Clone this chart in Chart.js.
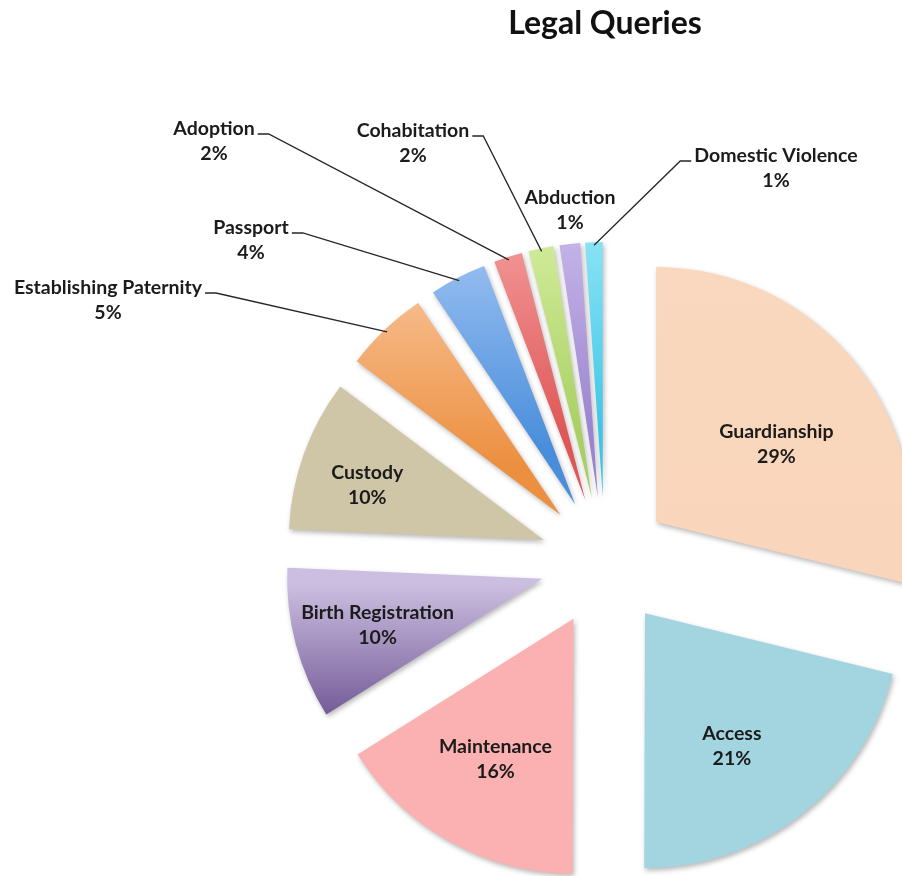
<!DOCTYPE html>
<html>
<head>
<meta charset="utf-8">
<script src="https://cdn.jsdelivr.net/npm/chart.js@4/dist/chart.umd.min.js"></script>
<style>
  html, body { margin: 0; padding: 0; background: #ffffff; overflow: hidden; }
  #wrap { width: 902px; height: 876px; position: relative; }
</style>
</head>
<body>
<div id="wrap"><canvas id="c" width="902" height="876"></canvas></div>
<script>
// ---------------- data ----------------
const chartTitle = 'Legal Queries';
const categories = ['Guardianship', 'Access', 'Maintenance', 'Birth Registration', 'Custody',
  'Establishing Paternity', 'Passport', 'Adoption', 'Cohabitation', 'Abduction', 'Domestic Violence'];
const shares = [28.8, 21.2, 16.0, 9.6, 9.6, 5.3, 3.6, 1.8, 1.6, 1.3, 1.1];

// ---------------- styles ----------------
const topColors    = ['#f9d8bf', '#a3d5e1', '#fbb1b1', '#cbbee0', '#cec6a7', '#f9c69e', '#a9caf6', '#f7a6a6', '#ddf3aa', '#d1c2ef', '#a2ecf8'];
const bottomColors = ['#f9d6bb', '#a3d5e1', '#fbb1b1', '#6a4f8f', '#cec6a7', '#ec8f3e', '#4a8edb', '#df5656', '#a8d062', '#9b84cf', '#3ec6e6'];
const FONT = 'Lato, "Open Sans", sans-serif';
const RADIUS = 255;      // px
const EXPLODE = 65;      // px shift of every slice
// label layout (angle clockwise from 12 o'clock, distance from pie centre) for inside labels,
// offsets from pie centre for callout labels
const insideLabels = { 0: [55.5, 208], 1: [145.5, 224], 2: [209, 226], 3: [254.5, 236], 4: [288, 250] };
const calloutLabels = {
  5: { dx: -497, dy: -274, side: 'left', line: true },
  6: { dx: -354, dy: -334, side: 'left', line: true },
  7: { dx: -391, dy: -433, side: 'left', line: true },
  8: { dx: -192, dy: -431, side: 'left', line: true },
  9: { dx: -35,  dy: -364, side: 'left', line: false },
  10:{ dx: 171,  dy: -406, side: 'right', line: true }
};

// Exploded pie: shift each slice along its bisector, keeping radius and angle unchanged
const Arc = Chart.ArcElement || (Chart.elements && Chart.elements.ArcElement);
const baseArcDraw = Arc.prototype.draw;
Arc.prototype.draw = function (ctx) {
  const opts = this.options;
  const off = (opts.offset || 0) / 4;
  const half = (this.startAngle + this.endAngle) / 2;
  ctx.save();
  ctx.translate(Math.cos(half) * off, Math.sin(half) * off);
  this.options = Object.assign({}, opts, { offset: 0 });
  try { baseArcDraw.call(this, ctx); } finally { this.options = opts; }
  ctx.restore();
};

function sliceGradient(context) {
  const chart = context.chart;
  const i = context.dataIndex;
  const a = chart.chartArea;
  if (!a) return topColors[i];
  const cx = (a.left + a.right) / 2, cy = (a.top + a.bottom) / 2;
  const total = shares.reduce((s, v) => s + v, 0);
  let cum = 0;
  for (let k = 0; k < i; k++) cum += shares[k];
  const s = -Math.PI / 2 + 2 * Math.PI * cum / total;
  const e = s + 2 * Math.PI * shares[i] / total;
  const m = (s + e) / 2;
  const oy = cy + Math.sin(m) * EXPLODE;
  let minY = oy, maxY = oy;
  for (let t = 0; t <= 40; t++) {
    const ang = s + (e - s) * t / 40;
    const y = oy + Math.sin(ang) * RADIUS;
    minY = Math.min(minY, y); maxY = Math.max(maxY, y);
  }
  const g = chart.ctx.createLinearGradient(0, minY, 0, maxY);
  g.addColorStop(0, topColors[i]);
  g.addColorStop(1, bottomColors[i]);
  return g;
}

const shadowPlugin = {
  id: 'sliceShadow',
  beforeDatasetDraw(chart) {
    const c = chart.ctx;
    c.save();
    c.shadowColor = 'rgba(0,0,0,0.28)';
    c.shadowBlur = 5;
    c.shadowOffsetX = 1.5;
    c.shadowOffsetY = 2.5;
  },
  afterDatasetDraw(chart) { chart.ctx.restore(); }
};

const labelPlugin = {
  id: 'sliceLabels',
  afterDatasetsDraw(chart) {
    const ctx = chart.ctx;
    const meta = chart.getDatasetMeta(0);
    const total = shares.reduce((s, v) => s + v, 0);
    const lineGap = 25;
    ctx.save();
    ctx.font = 'bold 19.5px ' + FONT;
    ctx.fillStyle = '#1b1b1b';
    ctx.strokeStyle = '#262626';
    ctx.lineWidth = 1.3;
    ctx.textAlign = 'center';
    ctx.textBaseline = 'middle';
    meta.data.forEach((el, i) => {
      const pct = Math.round(shares[i] / total * 100) + '%';
      if (insideLabels[i]) {
        const [deg, dist] = insideLabels[i];
        const a = (deg - 90) * Math.PI / 180;
        const x = el.x + Math.cos(a) * dist, y = el.y + Math.sin(a) * dist;
        ctx.fillText(categories[i], x, y - lineGap / 2);
        ctx.fillText(pct, x, y + lineGap / 2);
      } else if (calloutLabels[i]) {
        const L = calloutLabels[i];
        const x = el.x + L.dx, y = el.y + L.dy;
        ctx.fillText(categories[i], x, y);
        ctx.fillText(pct, x, y + lineGap);
        if (L.line) {
          const w = ctx.measureText(categories[i]).width;
          const mid = (el.startAngle + el.endAngle) / 2;
          const shift = (el.options.offset || 0) / 4;
          const ex = el.x + Math.cos(mid) * (shift + el.outerRadius - 3);
          const ey = el.y + Math.sin(mid) * (shift + el.outerRadius - 3);
          const dir = L.side === 'left' ? 1 : -1;
          const sx = x + dir * (w / 2 + 3), sy = y + 5;
          ctx.beginPath();
          ctx.moveTo(sx, sy);
          ctx.lineTo(sx + dir * 11, sy);
          ctx.lineTo(ex, ey);
          ctx.stroke();
        }
      }
    });
    ctx.restore();
  }
};

new Chart(document.getElementById('c'), {
  type: 'pie',
  data: {
    labels: categories,
    datasets: [{
      data: shares,
      backgroundColor: sliceGradient,
      borderWidth: 0,
      offset: EXPLODE * 4,
      hoverOffset: 0,
      radius: RADIUS,
      clip: false
    }]
  },
  options: {
    responsive: false,
    animation: false,
    events: [],
    radius: RADIUS,
    layout: { padding: { left: 308, right: 0, top: 0, bottom: 0 } },
    plugins: {
      legend: { display: false },
      tooltip: { enabled: false },
      title: {
        display: true,
        text: chartTitle,
        color: '#111',
        font: { family: FONT, size: 32, weight: 'bold', lineHeight: 1.2 },
        padding: { top: 4, bottom: 248 - 4 - 32 * 1.2 }
      }
    }
  },
  plugins: [shadowPlugin, labelPlugin]
});
</script>
</body>
</html>
